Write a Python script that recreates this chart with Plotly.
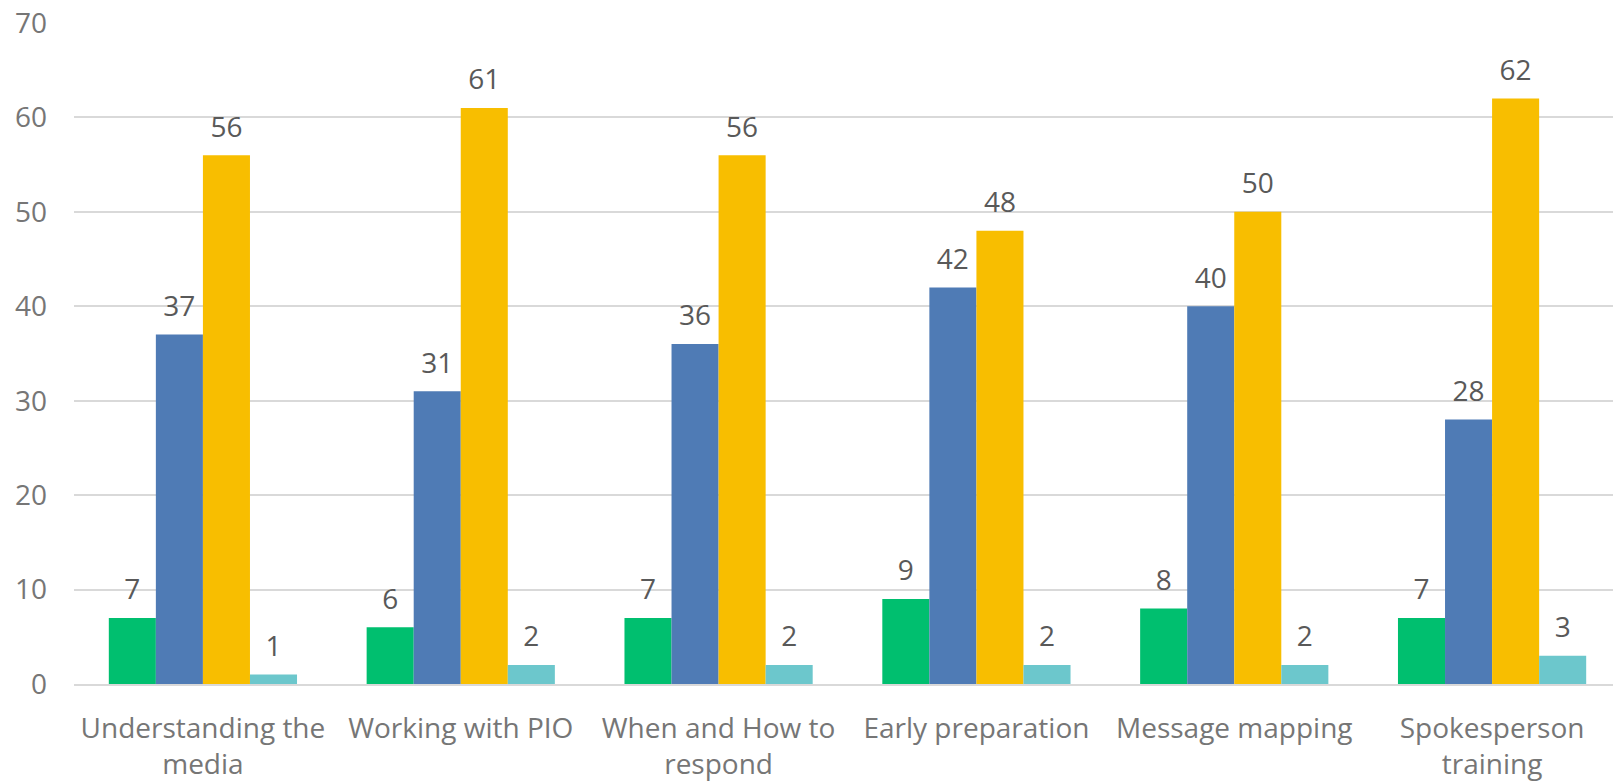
import plotly.graph_objects as go

categories = [
    "Understanding the<br>media",
    "Working with PIO",
    "When and How to<br>respond",
    "Early preparation",
    "Message mapping",
    "Spokesperson<br>training",
]
series_a = [7, 6, 7, 9, 8, 7]
series_b = [37, 31, 36, 42, 40, 28]
series_c = [56, 61, 56, 48, 50, 62]
series_d = [1, 2, 2, 2, 2, 3]
y_ticks = [0, 10, 20, 30, 40, 50, 60, 70]

colors = ["#00BF6F", "#4F7BB5", "#F8BE00", "#6CC7CC"]
FONT = "Open Sans, Liberation Sans, sans-serif"
label_font = dict(family=FONT, size=28, color="#595959")

fig = go.Figure()
for i, (vals, col) in enumerate(zip([series_a, series_b, series_c, series_d], colors)):
    fig.add_trace(go.Bar(
        x=categories, y=vals,
        marker=dict(color=col, line=dict(width=0)),
        offsetgroup=str(i),
        showlegend=False,
    ))
    # value labels, lifted off the bar top by an invisible marker
    fig.add_trace(go.Scatter(
        x=categories, y=vals,
        mode="markers+text",
        text=[str(v) for v in vals],
        textposition="top center",
        textfont=label_font,
        marker=dict(size=17, opacity=0),
        offsetgroup=str(i),
        cliponaxis=False,
        showlegend=False,
        hoverinfo="skip",
    ))

fig.update_layout(
    barmode="group",
    scattermode="group",
    bargap=0.27,
    scattergap=0.27,
    bargroupgap=0,
    width=1613, height=773,
    paper_bgcolor="white",
    plot_bgcolor="white",
    margin=dict(l=66, r=0, t=15, b=97),
    font=dict(family=FONT, size=28, color="#767676"),
    xaxis=dict(
        showgrid=False, showline=True, linecolor="#D9D9D9", linewidth=2,
        ticks="", tickfont=dict(size=28, color="#767676"),
        automargin=False, ticklabelstandoff=18,
    ),
    yaxis=dict(
        range=[0, 70], tickmode="array", tickvals=y_ticks,
        showgrid=True, gridcolor="#D9D9D9", gridwidth=2,
        zeroline=False, showline=False, ticks="",
        tickfont=dict(size=28, color="#767676"),
        ticklabeloverflow="allow",
        automargin=False, ticklabelstandoff=26,
    ),
)

fig.write_html("out.html")
